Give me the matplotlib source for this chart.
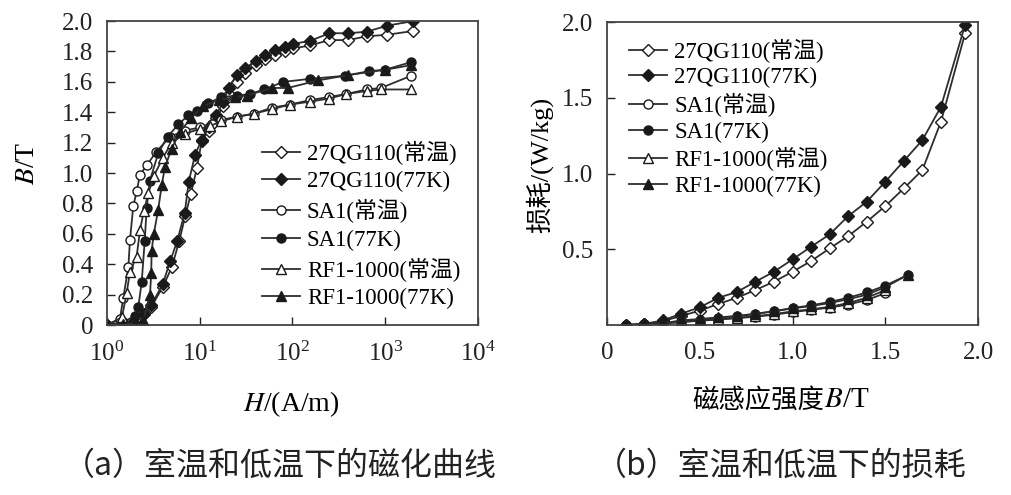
import numpy as np
import matplotlib
matplotlib.use('Agg')
import matplotlib.pyplot as plt
from matplotlib.ticker import FixedLocator, FixedFormatter, LogLocator, NullLocator

plt.rcParams['font.family'] = ['Liberation Serif', 'Noto Sans CJK SC']
plt.rcParams['mathtext.fontset'] = 'stix'

# (a) magnetisation curves, H in A/m, B in T
H_q_rt = [1.0, 1.5, 2.0, 2.5, 3.0, 4.0, 5.0, 6.0, 7.0, 8.0, 9.3, 10.5, 12.5, 15, 18, 20.5, 25, 31, 40, 50,
          65, 83, 102, 155, 250, 400, 630, 1050, 2000]
B_q_rt = [0, 0.01, 0.03, 0.07, 0.12, 0.25, 0.38, 0.55, 0.72, 0.86, 1.03, 1.21, 1.28, 1.36, 1.44, 1.52, 1.60,
          1.66, 1.71, 1.75, 1.78, 1.80, 1.82, 1.84, 1.875, 1.875, 1.90, 1.91, 1.935]
H_q_77 = [1.0, 1.5, 1.9, 2.5, 3.0, 4.0, 4.8, 5.7, 6.9, 7.6, 8.9, 10.5, 12.5, 15, 18, 20.5, 25, 31, 40, 50,
          65, 83, 102, 155, 250, 400, 630, 1050, 2000]
B_q_77 = [0, 0.01, 0.02, 0.075, 0.13, 0.27, 0.42, 0.55, 0.74, 0.94, 1.12, 1.22, 1.30, 1.38, 1.47, 1.56, 1.645,
          1.69, 1.74, 1.78, 1.81, 1.83, 1.85, 1.87, 1.92, 1.92, 1.93, 1.97, 2.0]
H_sa_rt = [1.0, 1.38, 1.5, 1.7, 1.77, 1.92, 2.09, 2.27, 2.68, 3.4, 4.8, 7.0, 10, 13.5, 17, 25, 38, 60, 93,
           155, 245, 380, 630, 900, 1900]
B_sa_rt = [0, 0.04, 0.18, 0.38, 0.56, 0.78, 0.88, 0.99, 1.05, 1.14, 1.24, 1.28, 1.30, 1.32, 1.35, 1.37, 1.39,
           1.43, 1.45, 1.48, 1.50, 1.52, 1.55, 1.56, 1.64]
H_sa_77 = [1.0, 1.5, 2.0, 2.18, 2.37, 2.55, 2.68, 2.9, 3.57, 4.5, 5.9, 7.5, 9.3, 12.4, 17, 25, 35, 49, 80,
           155, 370, 660, 1000, 1900]
B_sa_77 = [0, 0.02, 0.06, 0.12, 0.285, 0.55, 0.77, 0.95, 1.13, 1.24, 1.32, 1.38, 1.41, 1.46, 1.50, 1.51, 1.52,
           1.55, 1.60, 1.62, 1.64, 1.67, 1.68, 1.73]
H_rf_rt = [1.0, 1.45, 1.63, 1.77, 2.09, 2.27, 2.5, 2.8, 3.2, 4.0, 5.0, 7.0, 10, 13, 17, 25, 38, 60, 93,
           155, 245, 380, 630, 900, 1900]
B_rf_rt = [0, 0.05, 0.21, 0.35, 0.45, 0.625, 0.75, 0.87, 0.98, 1.10, 1.20, 1.26, 1.29, 1.31, 1.34, 1.37, 1.39,
           1.42, 1.45, 1.47, 1.49, 1.52, 1.54, 1.55, 1.55]
H_rf_77 = [1.0, 1.5, 2.0, 2.46, 2.91, 3.0, 3.03, 3.2, 3.57, 3.89, 4.22, 4.98, 6.1, 8.0, 10.9, 16, 24, 32, 60,
           89, 190, 400, 1000, 1900]
B_rf_77 = [0, 0.005, 0.015, 0.03, 0.2, 0.34, 0.49, 0.60, 0.76, 0.92, 1.04, 1.16, 1.27, 1.36, 1.44, 1.48, 1.50,
           1.51, 1.56, 1.56, 1.61, 1.645, 1.68, 1.71]

# (b) losses, W/kg vs B in T
Bq = [0.1, 0.2, 0.3, 0.4, 0.5, 0.6, 0.7, 0.8, 0.9, 1.0, 1.1, 1.2, 1.3, 1.4, 1.5, 1.6, 1.7, 1.8, 1.93]
P_q_rt = [0.0, 0.005, 0.025, 0.06, 0.095, 0.139, 0.18, 0.231, 0.286, 0.352, 0.422, 0.506, 0.587, 0.682,
          0.785, 0.902, 1.023, 1.342, 1.925]
P_q_77 = [0.0, 0.007, 0.03, 0.075, 0.117, 0.18, 0.218, 0.286, 0.352, 0.433, 0.517, 0.598, 0.719, 0.814,
          0.946, 1.083, 1.221, 1.441, 1.98]
B_lo_rt = [0.1, 0.2, 0.3, 0.4, 0.5, 0.6, 0.7, 0.8, 0.9, 1.0, 1.1, 1.2, 1.3, 1.4, 1.5]
P_sa_rt = [0.0, 0.004, 0.01, 0.02, 0.028, 0.036, 0.045, 0.055, 0.068, 0.085, 0.1, 0.115, 0.135, 0.165, 0.21]
P_rf_rt = [0.0, 0.004, 0.01, 0.02, 0.03, 0.038, 0.048, 0.058, 0.072, 0.09, 0.104, 0.12, 0.145, 0.18, 0.23]
B_lo_77 = [0.1, 0.2, 0.3, 0.4, 0.5, 0.6, 0.7, 0.8, 0.9, 1.0, 1.1, 1.2, 1.3, 1.4, 1.5, 1.62]
P_sa_77 = [0.0, 0.005, 0.012, 0.025, 0.035, 0.048, 0.058, 0.072, 0.092, 0.112, 0.13, 0.152, 0.18, 0.215,
           0.26, 0.33]
P_rf_77 = [0.0, 0.005, 0.012, 0.03, 0.04, 0.05, 0.06, 0.075, 0.09, 0.11, 0.125, 0.145, 0.17, 0.2, 0.25, 0.33]

labels = ['27QG110(常温)', '27QG110(77K)', 'SA1(常温)', 'SA1(77K)', 'RF1-1000(常温)', 'RF1-1000(77K)']
markers = ['D', 'D', 'o', 'o', '^', '^']
filled = [False, True, False, True, False, True]
msize = [6.5, 6.5, 6.5, 6.5, 7, 7]

ink = '#1a1a1a'
cjk = ['Noto Sans CJK SC']


def style(i):
    return dict(color='#2e2e2e', lw=1.3, marker=markers[i], ms=msize[i], mec=ink, mew=1.0,
                mfc=ink if filled[i] else 'white', label=labels[i])


fig = plt.figure(figsize=(10.11, 4.95), dpi=100)
ax1 = fig.add_axes([0.1058, 0.3434, 0.367, 0.614])
ax2 = fig.add_axes([0.6004, 0.3434, 0.367, 0.612])

left_data = [(H_q_rt, B_q_rt), (H_q_77, B_q_77), (H_sa_rt, B_sa_rt), (H_sa_77, B_sa_77),
             (H_rf_rt, B_rf_rt), (H_rf_77, B_rf_77)]
for i, (h, b) in enumerate(left_data):
    ax1.plot(h, b, **style(i))
ax1.set_xscale('log')
ax1.set_xlim(1, 1e4)
ax1.set_ylim(0, 2.0)
ax1.xaxis.set_major_locator(LogLocator(base=10, numticks=10))
ax1.xaxis.set_minor_locator(NullLocator())
yt = [0, 0.2, 0.4, 0.6, 0.8, 1.0, 1.2, 1.4, 1.6, 1.8, 2.0]
ax1.yaxis.set_major_locator(FixedLocator(yt))
ax1.yaxis.set_major_formatter(FixedFormatter(['0'] + ['%.1f' % v for v in yt[1:]]))
ax1.legend(loc='upper left', bbox_to_anchor=(0.418, 0.607), frameon=False, fontsize=16.5,
           handlelength=1.66, handletextpad=0.3, labelspacing=0.29, borderpad=0, borderaxespad=0)

right_data = [(Bq, P_q_rt), (Bq, P_q_77), (B_lo_rt, P_sa_rt), (B_lo_77, P_sa_77),
              (B_lo_rt, P_rf_rt), (B_lo_77, P_rf_77)]
for i, (b, p) in enumerate(right_data):
    ax2.plot(b, p, **style(i))
ax2.set_xlim(0, 2.0)
ax2.set_ylim(0, 2.0)
xt = [0, 0.5, 1.0, 1.5, 2.0]
ax2.xaxis.set_major_locator(FixedLocator(xt))
ax2.xaxis.set_major_formatter(FixedFormatter(['0', '0.5', '1.0', '1.5', '2.0']))
ax2.yaxis.set_major_locator(FixedLocator([0.5, 1.0, 1.5, 2.0]))
ax2.yaxis.set_major_formatter(FixedFormatter(['0.5', '1.0', '1.5', '2.0']))
ax2.legend(loc='upper left', bbox_to_anchor=(0.06, 0.9455), frameon=False, fontsize=16.5,
           handlelength=1.66, handletextpad=0.3, labelspacing=0.2, borderpad=0, borderaxespad=0)

for ax in (ax1, ax2):
    ax.tick_params(direction='in', length=6, width=1.0, labelsize=18, colors='#222222')
    ax.tick_params(axis='x', pad=12)
    ax.tick_params(axis='y', pad=10)
    for s in ax.spines.values():
        s.set_color('#444444')
        s.set_linewidth(1.3)

# axis labels
fig.text(0.027, 0.67, '$B$/T', fontsize=20, rotation=90, ha='center', va='center')
fig.text(0.288, 0.184, '$H$/(A/m)', fontsize=20, ha='center', va='center')
fig.text(0.534, 0.667, '损耗/(W/kg)', fontsize=19, rotation=90, ha='center', va='center')
fig.text(0.815, 0.192, '磁感应强度', fontsize=19, ha='right', va='center', family=cjk)
fig.text(0.815, 0.192, '$B$/T', fontsize=21, ha='left', va='center')

# captions
fig.text(0.277, 0.06, '（a）室温和低温下的磁化曲线', fontsize=23, ha='center', va='center',
         family=cjk, color='#222222')
fig.text(0.772, 0.06, '（b）室温和低温下的损耗', fontsize=23, ha='center', va='center',
         family=cjk, color='#222222')

fig.savefig('out.png', dpi=100)
